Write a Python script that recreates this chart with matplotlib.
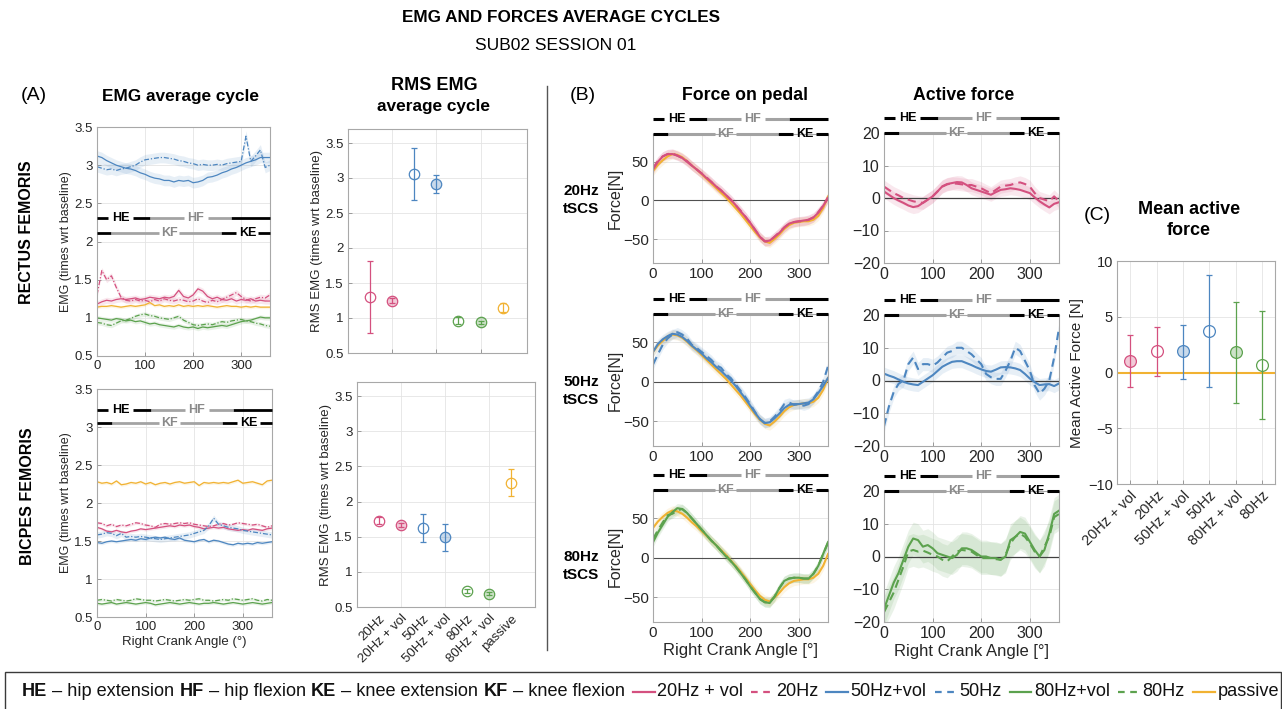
# EMG and force average cycles for one subject / session
# Four column figure: EMG cycles, RMS EMG, force cycles, mean active force

import matplotlib
matplotlib.use('Agg')
from matplotlib import pyplot as plt
from matplotlib import font_manager
from matplotlib.transforms import blended_transform_factory
from matplotlib.colors import to_rgba
from matplotlib.lines import Line2D
from matplotlib.patches import Rectangle
import numpy as np

W, H = 1282, 709

available = {f.name for f in font_manager.fontManager.ttflist}
BASE = 'Liberation Sans' if 'Liberation Sans' in available else 'DejaVu Sans'
NARROW = 'Liberation Sans Narrow' if 'Liberation Sans Narrow' in available else BASE
plt.rcParams['font.family'] = [BASE, 'DejaVu Sans']

PINK = '#d4507f'
BLUE = '#4d86c0'
GREEN = '#5ca24e'
GOLD = '#f1b232'
PHASE_GRAY = '#a3a3a3'
TEXT_GRAY = '#8a8a8a'
GRID = '#e4e4e4'

# crank angle grid of every series (degrees)
ANGLE = np.arange(0, 361, 10)

# ---- EMG average cycle, rectus femoris (times wrt baseline) ----
RF_20V = [1.18, 1.21, 1.23, 1.22, 1.24, 1.25, 1.24, 1.25, 1.26, 1.24, 1.25, 1.27, 1.26,
          1.25, 1.27, 1.26, 1.28, 1.36, 1.28, 1.26, 1.30, 1.38, 1.35, 1.28, 1.25, 1.27,
          1.24, 1.23, 1.25, 1.22, 1.24, 1.23, 1.25, 1.22, 1.23, 1.22, 1.22]
RF_20 = [1.30, 1.62, 1.50, 1.55, 1.40, 1.27, 1.23, 1.22, 1.24, 1.22, 1.23, 1.21, 1.24,
         1.22, 1.25, 1.23, 1.22, 1.24, 1.23, 1.21, 1.22, 1.25, 1.22, 1.20, 1.23, 1.21,
         1.24, 1.27, 1.30, 1.33, 1.28, 1.24, 1.22, 1.25, 1.27, 1.26, 1.30]
RF_50V = [3.12, 3.10, 3.06, 3.03, 3.00, 2.98, 2.96, 2.95, 2.93, 2.90, 2.88, 2.85, 2.83,
          2.82, 2.80, 2.80, 2.78, 2.80, 2.79, 2.80, 2.77, 2.78, 2.80, 2.84, 2.85, 2.87,
          2.90, 2.92, 2.95, 2.97, 3.00, 3.03, 3.05, 3.07, 3.10, 3.10, 3.10]
RF_50 = [2.98, 2.96, 2.94, 2.95, 2.93, 2.95, 2.96, 2.98, 3.00, 3.04, 3.07, 3.08, 3.09,
         3.10, 3.10, 3.09, 3.08, 3.06, 3.05, 3.03, 3.02, 3.00, 3.01, 3.00, 3.00, 3.01,
         3.00, 3.02, 3.03, 3.04, 3.05, 3.38, 3.05, 3.12, 3.20, 2.97, 3.00]
RF_80V = [1.00, 0.99, 0.98, 0.97, 0.99, 0.98, 0.96, 0.97, 0.95, 0.96, 0.94, 0.92, 0.93,
          0.91, 0.90, 0.89, 0.88, 0.90, 0.88, 0.87, 0.88, 0.86, 0.88, 0.87, 0.88, 0.89,
          0.90, 0.89, 0.91, 0.93, 0.95, 0.96, 0.97, 0.99, 1.01, 1.00, 1.00]
RF_80 = [0.94, 0.93, 0.91, 0.90, 0.93, 0.96, 0.97, 0.99, 1.02, 1.04, 1.05, 1.03, 1.02,
         1.00, 0.99, 0.98, 1.00, 1.02, 0.97, 0.94, 0.91, 0.90, 0.91, 0.92, 0.91, 0.93,
         0.95, 0.94, 0.96, 0.97, 0.98, 0.96, 0.95, 0.93, 0.92, 0.90, 0.89]
RF_P = [1.14, 1.15, 1.15, 1.16, 1.15, 1.14, 1.15, 1.16, 1.15, 1.16, 1.17, 1.20, 1.16,
        1.17, 1.15, 1.16, 1.15, 1.17, 1.15, 1.16, 1.15, 1.16, 1.15, 1.16, 1.15, 1.14,
        1.15, 1.16, 1.15, 1.15, 1.14, 1.15, 1.14, 1.15, 1.14, 1.14, 1.14]

# ---- EMG average cycle, biceps femoris ----
BF_20V = [1.68, 1.66, 1.63, 1.62, 1.64, 1.62, 1.61, 1.63, 1.64, 1.66, 1.65, 1.66, 1.67,
          1.68, 1.69, 1.70, 1.69, 1.71, 1.70, 1.71, 1.69, 1.68, 1.66, 1.67, 1.68, 1.67,
          1.68, 1.66, 1.65, 1.64, 1.65, 1.64, 1.66, 1.65, 1.64, 1.66, 1.67]
BF_20 = [1.74, 1.73, 1.70, 1.72, 1.69, 1.71, 1.70, 1.72, 1.74, 1.73, 1.71, 1.70, 1.68,
         1.72, 1.73, 1.72, 1.73, 1.74, 1.73, 1.74, 1.72, 1.71, 1.70, 1.69, 1.70, 1.72,
         1.73, 1.71, 1.72, 1.74, 1.73, 1.72, 1.71, 1.72, 1.70, 1.68, 1.70]
BF_50V = [1.48, 1.47, 1.49, 1.50, 1.49, 1.50, 1.51, 1.52, 1.51, 1.53, 1.52, 1.54, 1.55,
          1.54, 1.55, 1.53, 1.52, 1.54, 1.51, 1.50, 1.49, 1.51, 1.52, 1.49, 1.51, 1.50,
          1.48, 1.46, 1.45, 1.47, 1.46, 1.47, 1.46, 1.48, 1.47, 1.48, 1.49]
BF_50 = [1.58, 1.59, 1.61, 1.60, 1.57, 1.60, 1.55, 1.56, 1.55, 1.56, 1.55, 1.54, 1.53,
         1.52, 1.53, 1.54, 1.55, 1.56, 1.57, 1.58, 1.60, 1.62, 1.64, 1.70, 1.80, 1.72,
         1.70, 1.68, 1.67, 1.66, 1.64, 1.63, 1.62, 1.61, 1.60, 1.59, 1.58]
BF_80V = [0.68, 0.67, 0.68, 0.69, 0.67, 0.68, 0.69, 0.68, 0.67, 0.68, 0.69, 0.68, 0.66,
          0.67, 0.68, 0.69, 0.68, 0.67, 0.68, 0.69, 0.68, 0.67, 0.68, 0.68, 0.69, 0.68,
          0.67, 0.68, 0.69, 0.68, 0.67, 0.68, 0.69, 0.68, 0.67, 0.68, 0.69]
BF_80 = [0.72, 0.73, 0.72, 0.71, 0.73, 0.72, 0.71, 0.72, 0.74, 0.73, 0.72, 0.72, 0.71,
         0.72, 0.73, 0.72, 0.71, 0.72, 0.73, 0.72, 0.73, 0.74, 0.72, 0.72, 0.71, 0.72,
         0.73, 0.72, 0.74, 0.73, 0.72, 0.73, 0.74, 0.72, 0.71, 0.73, 0.72]
BF_P = [2.28, 2.26, 2.27, 2.25, 2.29, 2.24, 2.25, 2.27, 2.26, 2.28, 2.25, 2.27, 2.24,
        2.26, 2.27, 2.25, 2.27, 2.28, 2.26, 2.27, 2.28, 2.23, 2.27, 2.26, 2.27, 2.26,
        2.27, 2.26, 2.28, 2.30, 2.26, 2.27, 2.28, 2.26, 2.24, 2.29, 2.30]

# ---- RMS EMG of the average cycle ----
RMS_LABELS = ['20Hz', '20Hz + vol', '50Hz', '50Hz + vol', '80Hz', '80Hz + vol', 'passive']
RMS_COLORS = [PINK, PINK, BLUE, BLUE, GREEN, GREEN, GOLD]
RMS_FILLED = [False, True, False, True, False, True, False]
RMS_RF = [1.30, 1.25, 3.06, 2.92, 0.96, 0.94, 1.15]
RMS_RF_ERR = [0.52, 0.03, 0.37, 0.13, 0.05, 0.02, 0.06]
RMS_BF = [1.73, 1.67, 1.62, 1.49, 0.73, 0.69, 2.27]
RMS_BF_ERR = [0.05, 0.03, 0.20, 0.19, 0.03, 0.02, 0.19]

# ---- Force on pedal [N] ----
F_P = [38, 46, 52, 57, 60, 59, 56, 51, 45, 40, 34, 28, 22, 16, 10, 4, -3, -10, -17, -25,
       -33, -41, -48, -53, -55, -50, -44, -37, -32, -29, -28, -27, -27, -25, -20, -10, 5]
F_20V = [40, 50, 57, 60, 60, 58, 55, 50, 45, 40, 35, 29, 24, 18, 13, 7, 1, -6, -14, -21,
         -29, -38, -47, -53, -52, -47, -42, -35, -30, -28, -27, -26, -25, -22, -16, -7, 3]
F_20 = [42, 51, 57, 60, 61, 58, 55, 51, 45, 40, 35, 30, 24, 18, 13, 7, 1, -6, -13, -21,
        -29, -38, -47, -53, -53, -47, -41, -35, -30, -28, -27, -27, -25, -22, -15, -7, 4]
F_50V = [38, 48, 54, 58, 61, 60, 57, 52, 46, 41, 36, 30, 25, 19, 14, 8, 2, -5, -13, -21,
         -30, -39, -47, -52, -51, -46, -40, -33, -29, -28, -28, -27, -26, -22, -14, -5, 5]
F_50 = [22, 35, 47, 55, 60, 63, 60, 55, 47, 43, 38, 33, 28, 21, 18, 10, 5, -3, -11, -19,
        -28, -38, -47, -52, -50, -44, -37, -28, -26, -29, -28, -30, -28, -21, -12, 0, 20]
F_80V = [20, 32, 42, 52, 58, 63, 62, 57, 50, 43, 36, 29, 22, 16, 9, 2, -4, -11, -19, -27,
         -36, -44, -52, -56, -57, -49, -38, -29, -26, -25, -25, -26, -26, -20, -10, 5, 20]
F_80 = [24, 35, 45, 54, 56, 60, 62, 57, 50, 43, 36, 29, 22, 16, 9, 3, -4, -11, -19, -27,
        -36, -44, -52, -56, -56, -49, -38, -29, -26, -25, -25, -26, -26, -20, -10, 5, 19]

# ---- Active force [N] ----
A_20V = [2.0, 1.0, 0.0, -0.8, -1.5, -2.3, -2.8, -2.5, -1.5, -0.5, 0.5, 2.0, 3.6, 4.3, 4.6,
         4.9, 4.8, 4.0, 3.0, 2.5, 2.0, 1.5, 1.0, 1.8, 2.5, 2.7, 3.0, 2.8, 2.5, 2.0, 1.5,
         0.2, -1.0, -2.0, -2.9, -1.8, -1.3]
A_20 = [3.5, 2.5, 1.5, 0.8, 0.0, -0.5, -1.0, -1.3, -1.5, -0.5, 0.5, 2.0, 3.5, 4.2, 4.5,
        4.4, 4.2, 4.0, 4.0, 3.5, 3.0, 2.2, 1.5, 2.5, 3.5, 3.8, 4.0, 4.5, 4.8, 4.3, 3.5,
        1.5, 0.0, -0.5, -1.0, 0.5, -1.0]
A_50V = [2.1, 1.5, 1.0, 0.3, -0.4, -0.9, -1.2, -1.4, -0.4, 0.6, 1.6, 2.9, 4.2, 5.0, 5.7,
         5.9, 5.9, 5.3, 4.7, 4.0, 3.4, 2.9, 2.7, 3.3, 4.0, 4.1, 4.0, 3.7, 3.2, 2.0, 0.6,
         -0.5, -1.4, -1.2, -1.1, -1.7, -0.9]
A_50 = [-14, -8, -3.5, -1, 0, 5, 7, 3.5, 5, 5, 4.5, 5.5, 7, 8.5, 9, 10, 10, 9, 8, 6.5, 5,
        2, 1, 0.5, 0.5, 3, 6, 10, 9, 6, 3, -1.5, -4, -2.5, 0, 7, 16]
A_80V = [-16, -12, -8, -5, -1, 3, 5.5, 5, 3, 3.5, 2.5, 1, 0.5, 0, -0.5, 0.5, 2.5, 2.5, 2,
         1, 0, 0, -0.5, -0.5, -1, 0, 5, 6, 7.5, 7, 4.5, 2, 0, 2, 7, 13, 14]
A_80 = [-17, -14, -11, -7, -3, 1.5, 2, 1.5, 1.8, 1.2, 0.5, 0, -1, -1.5, 0, 1.5, 2, 1.8,
        1.5, 0.5, -0.5, -0.5, -0.5, -0.8, -1, 0.5, 4, 6, 7, 6, 4, 1.5, 0, 3, 6, 12, 13]

# half width of the shaded bands
EMG_BAND = {'20': 0.04, '50': 0.07, '80': 0.03, 'p': 0.02}
F_BAND = 6
A_BAND = {'20': 2.0, '50': 2.0, '80': 5.0}

# ---- Mean active force [N] ----
MAF_LABELS = ['20Hz + vol', '20Hz', '50Hz + vol', '50Hz', '80Hz + vol', '80Hz']
MAF_COLORS = [PINK, PINK, BLUE, BLUE, GREEN, GREEN]
MAF_FILLED = [True, False, True, False, True, False]
MAF = [1.0, 1.9, 1.9, 3.7, 1.8, 0.65]
MAF_LO = [-1.3, -0.3, -0.6, -1.3, -2.7, -4.2]
MAF_HI = [3.4, 4.1, 4.3, 8.7, 6.3, 5.5]

# gait phase bars (degrees)
HIP_BLACK = [(0, 22), (74, 111), (279, 360)]
HIP_GRAY = [(111, 180), (230, 279)]
KNEE_BLACK = [(0, 30), (258, 289), (335, 360)]
KNEE_GRAY = [(30, 128), (170, 258)]
PHASE_TEXT = [('HE', 49, 'hip', 'black'), ('HF', 204, 'hip', TEXT_GRAY),
              ('KF', 150, 'knee', TEXT_GRAY), ('KE', 313, 'knee', 'black')]


def pax(fig, l, t, r, b):
    """Axes from a pixel box (left, top, right, bottom)"""
    return fig.add_axes([l / W, 1 - b / H, (r - l) / W, (b - t) / H])


def style(ax, fs):
    ax.tick_params(direction='in', length=3, width=0.6, labelsize=fs,
                   color='#8c8c8c', labelcolor='#262626', pad=3)
    for s in ax.spines.values():
        s.set_color('#a8a8a8')
        s.set_linewidth(0.8)
    ax.grid(True, color=GRID, lw=0.6)
    ax.set_axisbelow(True)


def draw_phases(ax, y_hip, y_knee, fs, lw, axes_y=False):
    tr = blended_transform_factory(ax.transData, ax.transAxes) if axes_y else ax.transData
    rows = [(HIP_BLACK, y_hip, 'black'), (HIP_GRAY, y_hip, PHASE_GRAY),
            (KNEE_BLACK, y_knee, 'black'), (KNEE_GRAY, y_knee, PHASE_GRAY)]
    for segs, y, col in rows:
        for a, b in segs:
            ax.plot([a, b], [y, y], color=col, lw=lw, transform=tr, clip_on=False,
                    solid_capstyle='butt', zorder=6)
    for s, xc, row, col in PHASE_TEXT:
        y = y_hip if row == 'hip' else y_knee
        ax.text(xc, y, s, transform=tr, ha='center', va='center', fontsize=fs,
                fontweight='bold', color=col, zorder=7, clip_on=False)


def emg_panel(ax, series):
    for y, col, ls, band in series:
        y = np.asarray(y)
        ax.fill_between(ANGLE, y - band, y + band, color=col, alpha=0.13, lw=0)
    for y, col, ls, band in series:
        ax.plot(ANGLE, y, color=col, lw=0.9, linestyle=ls)
    ax.set_xlim(0, 360)
    ax.set_ylim(0.5, 3.5)
    ax.set_xticks([0, 100, 200, 300])
    ax.set_yticks(np.arange(0.5, 3.51, 0.5))
    ax.set_yticklabels(['0.5', '1', '1.5', '2', '2.5', '3', '3.5'])
    style(ax, 9.5)
    ax.set_ylabel('EMG (times wrt baseline)', fontsize=9, color='#262626', labelpad=2)


def rms_panel(ax, vals, errs, show_labels):
    for i in range(len(vals)):
        c = RMS_COLORS[i]
        face = to_rgba(c, 0.3) if RMS_FILLED[i] else 'none'
        ax.errorbar(i + 1, vals[i], yerr=errs[i], fmt='o', ms=7.5, mfc=face, mec=c,
                    mew=0.9, ecolor=c, elinewidth=0.9, capsize=2.5, capthick=0.9)
    ax.set_xlim(0, 8.1)
    ax.set_ylim(0.5, 3.7)
    ax.set_yticks(np.arange(0.5, 3.51, 0.5))
    ax.set_yticklabels(['0.5', '1', '1.5', '2', '2.5', '3', '3.5'])
    style(ax, 9.5)
    ax.grid(False, axis='x')
    for xg in (2, 4, 6):
        ax.axvline(xg, color=GRID, lw=0.6, zorder=0)
    if show_labels:
        ax.set_xticks(range(1, 8))
        ax.set_xticklabels(RMS_LABELS, rotation=45, ha='right', rotation_mode='anchor',
                           fontsize=9.5, color='#262626')
        ax.tick_params(axis='x', length=0, pad=4)
    else:
        ax.set_xticks([2, 4, 6])
        ax.set_xticklabels([])
    ax.set_ylabel('RMS EMG (times wrt baseline)', fontsize=9.5, color='#262626', labelpad=2)


def force_panel(ax, y_stim, y_vol, col, xlabel):
    for y in (F_P, y_stim, y_vol):
        c = GOLD if y is F_P else col
        y = np.asarray(y, float)
        ax.fill_between(ANGLE, y - F_BAND, y + F_BAND, color=c, alpha=0.13, lw=0)
    ax.axhline(0, color='#505050', lw=0.8)
    ax.plot(ANGLE, F_P, color=GOLD, lw=1.5)
    ax.plot(ANGLE, y_stim, color=col, lw=1.5, linestyle=(0, (4, 2.5)))
    ax.plot(ANGLE, y_vol, color=col, lw=1.5)
    ax.set_xlim(0, 360)
    ax.set_ylim(-81, 86)
    ax.set_xticks([0, 100, 200, 300])
    ax.set_yticks([-50, 0, 50])
    style(ax, 11)
    ax.set_ylabel('Force[N]', fontsize=11.5, color='#262626', labelpad=0)
    if xlabel:
        ax.set_xlabel('Right Crank Angle [°]', fontsize=12, color='#262626', labelpad=2)
    draw_phases(ax, 1.115, 1.0, 9, 2.2, axes_y=True)


def active_panel(ax, y_stim, y_vol, col, band, xlabel):
    for y in (y_stim, y_vol):
        y = np.asarray(y, float)
        ax.fill_between(ANGLE, y - band, y + band, color=col, alpha=0.13, lw=0)
    ax.axhline(0, color='#404040', lw=0.9)
    ax.plot(ANGLE, y_stim, color=col, lw=1.5, linestyle=(0, (4, 2.5)))
    ax.plot(ANGLE, y_vol, color=col, lw=1.5)
    ax.set_xlim(0, 360)
    ax.set_ylim(-20, 20)
    ax.set_xticks([0, 100, 200, 300])
    ax.set_yticks([-20, -10, 0, 10, 20])
    style(ax, 11.5)
    if xlabel:
        ax.set_xlabel('Right Crank Angle [°]', fontsize=12, color='#262626', labelpad=2)
    draw_phases(ax, 1.115, 1.0, 9, 2.2, axes_y=True)


def legend_strip(fig):
    box = Rectangle((5 / W, -0.02), 1276 / W, (709 - 672) / H + 0.02,
                    transform=fig.transFigure, fill=False, edgecolor='#3a3a3a', lw=1.0)
    fig.patches.append(box)
    pieces = [('t', 'HE', True), ('t', '– hip extension', False), ('t', 'HF', True),
              ('t', '– hip flexion', False), ('t', 'KE', True), ('t', '– knee extension', False),
              ('t', 'KF', True), ('t', '– knee flexion', False),
              ('h', PINK, '-'), ('t', '20Hz + vol', False),
              ('h', PINK, '--'), ('t', '20Hz', False),
              ('h', BLUE, '-'), ('t', '50Hz+vol', False),
              ('h', BLUE, '--'), ('t', '50Hz', False),
              ('h', GREEN, '-'), ('t', '80Hz+vol', False),
              ('h', GREEN, '--'), ('t', '80Hz', False),
              ('h', GOLD, '-'), ('t', 'passive', False)]
    renderer = fig.canvas.get_renderer()
    y = 1 - 692 / H
    x_start, x_end = 22, 1277

    def run(fs, draw):
        made = []
        em = fs * 100 / 72
        x = x_start
        prev = None
        for p in pieces:
            if p[0] == 't':
                if prev is not None:
                    x += em * (0.28 if prev == 't' else 0.15)
                t = fig.text(x / W, y, p[1], fontsize=fs, family=[NARROW, 'DejaVu Sans'],
                             fontweight='bold' if p[2] else 'normal', va='center',
                             ha='left', color='#111111')
                made.append(t)
                x = t.get_window_extent(renderer).x1
                prev = 't'
            else:
                x += em * 0.45
                if draw:
                    ln = Line2D([x / W, (x + em * 1.2) / W], [y, y],
                                transform=fig.transFigure, color=p[1], lw=1.6,
                                linestyle=(0, (3, 2.5)) if p[2] == '--' else '-')
                    fig.lines.append(ln)
                x += em * 1.2
                prev = 'h'
        return made, x

    made, x = run(12, False)
    for m in made:
        m.remove()
    fs = 12 * (x_end - x_start) / (x - x_start)
    run(fs, True)


def main():
    fig = plt.figure(figsize=(W / 100, H / 100), dpi=100)

    # headings
    fig.text(561 / W, 1 - 18 / H, 'EMG AND FORCES AVERAGE CYCLES', ha='center', va='center',
             fontsize=12.3, fontweight='bold')
    fig.text(556 / W, 1 - 46 / H, 'SUB02 SESSION 01', ha='center', va='center', fontsize=12.5)
    fig.text(34 / W, 1 - 96 / H, '(A)', ha='center', va='center', fontsize=14)
    fig.text(181 / W, 1 - 96 / H, 'EMG average cycle', ha='center', va='center',
             fontsize=12.4, fontweight='bold')
    fig.text(434 / W, 1 - 85 / H, 'RMS EMG', ha='center', va='center',
             fontsize=13, fontweight='bold')
    fig.text(434 / W, 1 - 107 / H, 'average cycle', ha='center', va='center',
             fontsize=12.4, fontweight='bold')
    fig.text(583 / W, 1 - 96 / H, '(B)', ha='center', va='center', fontsize=14)
    fig.text(745 / W, 1 - 96 / H, 'Force on pedal', ha='center', va='center',
             fontsize=12.7, fontweight='bold')
    fig.text(964 / W, 1 - 96 / H, 'Active force', ha='center', va='center',
             fontsize=12.7, fontweight='bold')
    fig.text(1097 / W, 1 - 216 / H, '(C)', ha='center', va='center', fontsize=14)
    fig.text(1189 / W, 1 - 209 / H, 'Mean active', ha='center', va='center',
             fontsize=13, fontweight='bold')
    fig.text(1189 / W, 1 - 231 / H, 'force', ha='center', va='center',
             fontsize=13, fontweight='bold')

    fig.text(27 / W, 1 - 232 / H, 'RECTUS FEMORIS', rotation=90, ha='center', va='center',
             fontsize=11.5, fontweight='bold')
    fig.text(28 / W, 1 - 496 / H, 'BICPES FEMORIS', rotation=90, ha='center', va='center',
             fontsize=11.5, fontweight='bold')
    for lab, yc in [('20Hz\ntSCS', 200), ('50Hz\ntSCS', 391), ('80Hz\ntSCS', 566)]:
        fig.text(581 / W, 1 - yc / H, lab, ha='center', va='center', fontsize=11,
                 fontweight='bold', linespacing=1.4)

    # divider between (A) and (B)
    fig.lines.append(Line2D([547 / W, 547 / W], [1 - 86 / H, 1 - 650 / H],
                            transform=fig.transFigure, color='#555555', lw=1.0))

    # EMG average cycles
    dash = (0, (4, 1.5, 1, 1.5))
    ax = pax(fig, 97, 127, 270, 356)
    emg_panel(ax, [(RF_50V, BLUE, '-', EMG_BAND['50']), (RF_50, BLUE, dash, EMG_BAND['50']),
                   (RF_20V, PINK, '-', EMG_BAND['20']), (RF_20, PINK, dash, EMG_BAND['20']),
                   (RF_P, GOLD, '-', EMG_BAND['p']),
                   (RF_80V, GREEN, '-', EMG_BAND['80']), (RF_80, GREEN, dash, EMG_BAND['80'])])
    draw_phases(ax, 2.31, 2.11, 9, 2.0)

    ax = pax(fig, 97, 389, 272, 617)
    emg_panel(ax, [(BF_P, GOLD, '-', EMG_BAND['p']),
                   (BF_20V, PINK, '-', EMG_BAND['p']), (BF_20, PINK, dash, EMG_BAND['p']),
                   (BF_50V, BLUE, '-', EMG_BAND['p']), (BF_50, BLUE, dash, EMG_BAND['50'] * 0.6),
                   (BF_80V, GREEN, '-', EMG_BAND['p']), (BF_80, GREEN, dash, EMG_BAND['p'])])
    draw_phases(ax, 3.23, 3.05, 9, 2.0)
    ax.set_xlabel('Right Crank Angle (°)', fontsize=9.5, color='#262626', labelpad=2)

    # RMS EMG
    rms_panel(pax(fig, 348, 129, 527, 353), RMS_RF, RMS_RF_ERR, False)
    rms_panel(pax(fig, 357, 382, 535, 607), RMS_BF, RMS_BF_ERR, True)

    # force panels
    force_panel(pax(fig, 653, 134, 828, 263), F_20, F_20V, PINK, False)
    force_panel(pax(fig, 653, 314, 828, 446), F_50, F_50V, BLUE, False)
    force_panel(pax(fig, 653, 490, 828, 622), F_80, F_80V, GREEN, True)
    active_panel(pax(fig, 884, 133, 1059, 263), A_20, A_20V, PINK, A_BAND['20'], False)
    active_panel(pax(fig, 884, 315, 1059, 446), A_50, A_50V, BLUE, A_BAND['50'], False)
    active_panel(pax(fig, 884, 491, 1059, 622), A_80, A_80V, GREEN, A_BAND['80'], True)

    # mean active force
    ax = pax(fig, 1117, 261, 1275, 484)
    ax.axhline(0, color=GOLD, lw=1.5, zorder=1)
    for i in range(len(MAF)):
        c = MAF_COLORS[i]
        face = to_rgba(c, 0.3) if MAF_FILLED[i] else 'none'
        err = [[MAF[i] - MAF_LO[i]], [MAF_HI[i] - MAF[i]]]
        ax.errorbar(i + 1, MAF[i], yerr=err, fmt='o', ms=8.5, mfc=face, mec=c, mew=0.9,
                    ecolor=c, elinewidth=0.9, capsize=2.5, capthick=0.9, zorder=3)
    ax.set_xlim(0.5, 6.5)
    ax.set_ylim(-10, 10)
    ax.set_yticks([-10, -5, 0, 5, 10])
    ax.set_xticks(range(1, 7))
    style(ax, 10.5)
    ax.set_xticklabels(MAF_LABELS, rotation=45, ha='right', rotation_mode='anchor')
    ax.set_ylabel('Mean Active Force [N]', fontsize=11, color='#262626', labelpad=3)

    legend_strip(fig)
    fig.savefig('out.png', dpi=100)


if __name__ == '__main__':
    main()
